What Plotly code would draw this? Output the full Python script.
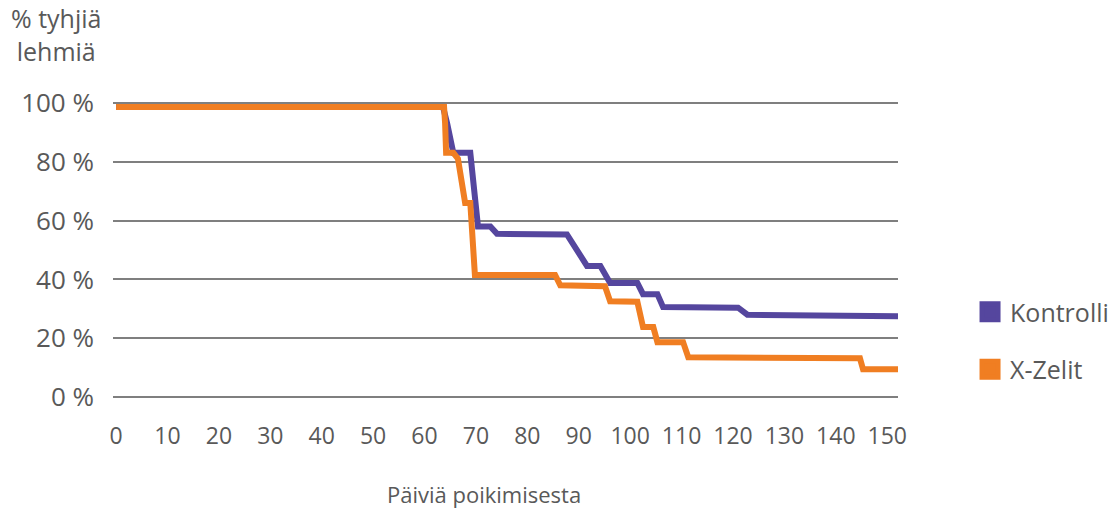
import plotly.graph_objects as go

# Data (days after calving, % of open cows)
kontrolli_days = [0, 63.6, 64.4, 65.6, 68.9, 70.4, 72.8, 74.1, 87.7, 91.6, 94.2, 96.1,
                  101.4, 102.5, 105.3, 106.4, 121.0, 122.8, 152.1]
kontrolli_pct = [98.6, 98.6, 93, 83, 83, 58, 58, 55.5, 55.3, 44.6, 44.6, 38.8,
                 38.8, 35, 35, 30.6, 30.4, 28, 27.5]

xzelit_days = [0, 63.8, 64.0, 64.2, 65.6, 66.5, 67.9, 68.9, 69.8, 85.4, 86.4, 95.1,
               96.1, 101.4, 102.5, 104.5, 105.3, 110.3, 111.3, 144.7, 145.3, 152.1]
xzelit_pct = [98.6, 98.6, 93, 83, 83, 81, 66, 66, 41.5, 41.5, 38, 37.7,
              32.6, 32.4, 23.8, 23.8, 18.7, 18.7, 13.6, 13.2, 9.5, 9.5]

x_ticks = list(range(0, 151, 10))
y_ticks = [0, 20, 40, 60, 80, 100]
y_tick_labels = [f"{v}\u00a0%" for v in y_ticks]

series_names = ["Kontrolli", "X-Zelit"]
colors = ["#55469E", "#F07E22"]

FONT = "Open Sans"
TXT = "#595959"

fig = go.Figure()
fig.add_trace(go.Scatter(x=kontrolli_days, y=kontrolli_pct, mode="lines",
                         line=dict(color=colors[0], width=6), showlegend=False,
                         hoverinfo="skip"))
fig.add_trace(go.Scatter(x=xzelit_days, y=xzelit_pct, mode="lines",
                         line=dict(color=colors[1], width=6), showlegend=False,
                         hoverinfo="skip"))
# legend entries as squares
for name, c in zip(series_names, colors):
    fig.add_trace(go.Scatter(x=[None], y=[None], mode="markers", name=name,
                             legendgroup=name,
                             marker=dict(symbol="square", size=16, color=c,
                                         line=dict(color=c, width=5))))

fig.update_layout(
    width=1120, height=509,
    margin=dict(l=113, r=222, t=94, b=103, autoexpand=False),
    paper_bgcolor="white", plot_bgcolor="white",
    font=dict(family=FONT, color=TXT, size=23),
    showlegend=True,
    legend=dict(xref="container", yref="container", x=0.8661, y=0.331,
                xanchor="left", yanchor="middle",
                font=dict(size=25, color=TXT), tracegroupgap=22,
                bgcolor="rgba(0,0,0,0)"),
    xaxis=dict(range=[-0.6, 152.1], tickmode="array", tickvals=x_ticks,
               showgrid=False, zeroline=False, showline=False, automargin=False,
               ticks="", ticklabelstandoff=14,
               tickfont=dict(size=23, color=TXT)),
    yaxis=dict(range=[-3, 103], tickmode="array", tickvals=y_ticks,
               ticktext=y_tick_labels, showgrid=True, gridcolor="#7F7F7F",
               gridwidth=2, zeroline=False, showline=False, ticks="",
               automargin=False,
               ticklabelstandoff=18, tickfont=dict(size=26, color=TXT)),
    annotations=[
        dict(text="% tyhjiä<br>lehmiä", xref="paper", yref="paper",
             x=(56 - 113) / 785, y=(406 + 1) / 312, xanchor="center",
             yanchor="top", showarrow=False, align="center",
             font=dict(size=25, color=TXT, family=FONT)),
        dict(text="Päiviä poikimisesta", xref="paper", yref="paper",
             x=(484 - 113) / 785, y=(406 - 494) / 312, xanchor="center",
             yanchor="middle", showarrow=False,
             font=dict(size=22, color=TXT, family=FONT)),
    ],
)

fig.write_html("out.html", config={"displayModeBar": False},
               post_script="document.body.style.margin='0';")
